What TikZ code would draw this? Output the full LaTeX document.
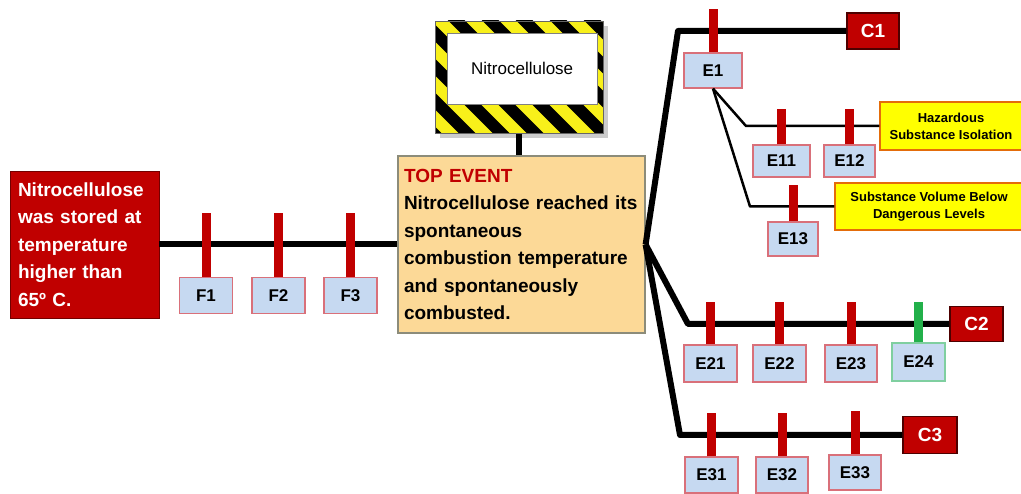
\documentclass[tikz,border=0pt]{standalone}
\usepackage{fontspec}
\setmainfont{Liberation Sans}
\definecolor{dred}{HTML}{C00000}
\definecolor{eblue}{HTML}{C6D9F1}
\definecolor{eborder}{HTML}{D9707A}
\definecolor{topfill}{HTML}{FCD997}
\definecolor{topborder}{HTML}{8C8C7A}
\definecolor{yfill}{HTML}{FFFF00}
\definecolor{yborder}{HTML}{E46C0A}
\definecolor{hzy}{HTML}{F8F01A}
\definecolor{egreen}{HTML}{22B04A}
\definecolor{gborder}{HTML}{7FCFA0}
\begin{document}
\begin{tikzpicture}[x=1pt,y=-1pt,
  every node/.style={font=\bfseries},
  ebox/.style={draw=eborder, fill=eblue, line width=1.2pt, minimum width=53pt, minimum height=36pt, inner sep=0pt, font=\fontsize{17}{20}\bfseries\selectfont},
  cbox/.style={draw=black!60!dred, fill=dred, text=white, line width=1.2pt, minimum width=53pt, minimum height=36pt, inner sep=0pt, font=\fontsize{19}{22}\bfseries\selectfont},
  redbar/.style={draw=dred, line width=9pt},
  greenbar/.style={draw=egreen, line width=9pt},
  mainline/.style={draw=black, line width=6pt, line join=round},
  subline/.style={draw=black, line width=2.5pt, line join=round},
  ybox/.style={draw=yborder, fill=yfill, line width=1.2pt, inner sep=0pt, align=center, font=\fontsize{13}{17}\bfseries\selectfont}]

\useasboundingbox (0,0) rectangle (1021,494);
\fill[white] (0,0) rectangle (1021,494);

% hazard sign
\fill[black!20] (440,26) rectangle (608,138);
\begin{scope}
\clip (435,21) rectangle (603,133);
\fill[hzy] (435,21) rectangle (603,133);
\foreach \s in {266,300,...,640} \draw[black, line width=12pt] (\s,0) -- ++(160,160);
\end{scope}
\node[draw=black!60, line width=0.8pt, minimum width=168pt, minimum height=112pt, anchor=north west, inner sep=0pt] (sign) at (435,21) {};
\node[draw=black!50, fill=white, minimum width=150pt, minimum height=71pt, anchor=north west, inner sep=0pt, font=\fontsize{17}{20}\mdseries\selectfont] (hz) at (447,33) {Nitrocellulose};

% top event
\node[draw=topborder, fill=topfill, line width=1.2pt, minimum width=247pt, minimum height=177pt, text width=235pt, inner xsep=6pt, align=left, font=\fontsize{19}{27.5}\bfseries\selectfont] (top) at (521.5,244.5)
 {\textcolor{dred}{TOP EVENT}\\Nitrocellulose reached its\\spontaneous\\combustion temperature\\and spontaneously\\combusted.};
\draw[mainline] (sign.south) -- (sign.south |- top.north);

% cause
\node[fill=dred, draw=black!40!dred, line width=0.8pt, minimum width=149pt, minimum height=147pt, text width=133pt, inner xsep=8pt, text=white, align=left, font=\fontsize{19}{27.4}\bfseries\selectfont] (cause) at (84.5,244.5)
 {Nitrocellulose\\was stored at\\temperature\\higher than\\65º C.};

% F boxes
\node[ebox] (F1) at (206,295.5) {F1};
\node[ebox] (F2) at (278.5,295.5) {F2};
\node[ebox] (F3) at (350.5,295.5) {F3};
\draw[mainline] (cause.east) -- (top.west);
\foreach \f in {F1,F2,F3} \draw[redbar] (\f.north) -- +(0,-64);

% consequences
\node[cbox, minimum width=52pt] (C1) at (873,31) {C1};
\node[cbox, minimum height=35pt] (C2) at (976.5,324) {C2};
\node[cbox, minimum width=54pt, minimum height=37pt] (C3) at (930,435) {C3};

% E boxes
\node[ebox, minimum width=58pt, minimum height=35pt] (E1) at (713,70.5) {E1};
\node[ebox, minimum width=57pt, minimum height=32pt] (E11) at (781.5,161) {E11};
\node[ebox, minimum width=51pt, minimum height=32pt] (E12) at (849.5,161) {E12};
\node[ebox, minimum width=50pt, minimum height=34pt] (E13) at (793,239) {E13};
\node[ebox, minimum height=37pt] (E21) at (710.5,363.5) {E21};
\node[ebox, minimum height=37pt] (E22) at (779.5,363.5) {E22};
\node[ebox, minimum width=52pt, minimum height=37pt] (E23) at (851,363.5) {E23};
\node[ebox, draw=gborder, minimum height=38pt] (E24) at (918.5,362) {E24};
\node[ebox] (E31) at (711.5,475) {E31};
\node[ebox, minimum width=52pt] (E32) at (782,475) {E32};
\node[ebox, minimum width=52pt, minimum height=35pt] (E33) at (855,472.5) {E33};

% barriers (yellow)
\node[ybox, minimum width=142pt, minimum height=48pt] (Y1) at (951,126) {Hazardous\\Substance Isolation};
\node[ybox, minimum width=188pt, minimum height=47pt] (Y2) at (929,206.5) {Substance Volume Below\\Dangerous Levels};

% branch lines
\coordinate (k1) at (678,31);
\coordinate (k2) at (688,324);
\coordinate (k3) at (680,435);
\draw[mainline] (top.east) -- (k1) -- (C1.west);
\draw[mainline] (top.east) -- (k2) -- (C2.west);
\draw[mainline] (top.east) -- (k3) -- (C3.west);

\coordinate (s1) at (746,126);
\coordinate (s2) at (750,206.5);
\draw[subline] (E1.south) -- (s1) -- (Y1.west);
\draw[subline] (E1.south) -- (s2) -- (Y2.west);

% bars
\draw[redbar] (E1.north) -- +(0,-43);
\draw[redbar] (E11.north) -- +(0,-35);
\draw[redbar] (E12.north) -- +(0,-35);
\draw[redbar] (E13.north) -- +(0,-36);
\draw[redbar] (E21.north) -- +(0,-42);
\draw[redbar] (E22.north) -- +(0,-42);
\draw[redbar] (E23.north) -- +(0,-42);
\draw[greenbar] (E24.north) -- +(0,-40);
\draw[redbar] (E31.north) -- +(0,-43);
\draw[redbar] (E32.north) -- +(0,-43);
\draw[redbar] (E33.north) -- +(0,-43);
\end{tikzpicture}
\end{document}
